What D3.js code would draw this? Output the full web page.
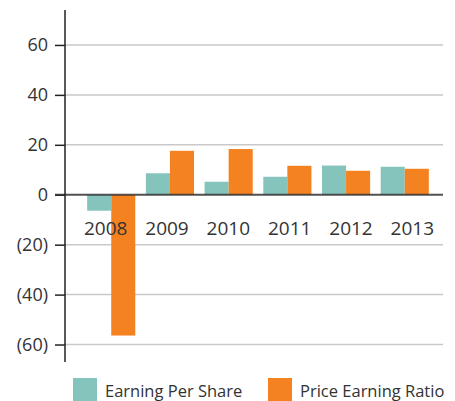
<!DOCTYPE html>
<html>
<head>
<meta charset="utf-8">
<script src="https://cdn.jsdelivr.net/npm/d3@7"></script>
<style>
  body { margin: 0; background: #fff; }
  svg { display: block; font-family: "Open Sans", sans-serif; }
</style>
</head>
<body>
<svg id="chart" width="455" height="401"></svg>
<script>
const years = ["2008", "2009", "2010", "2011", "2012", "2013"];
const earningPerShare = [-6.4, 8.6, 5.2, 7.2, 11.7, 11.2];
const priceEarningRatio = [-56.4, 17.6, 18.3, 11.6, 9.6, 10.4];
const yTicks = [60, 40, 20, 0, -20, -40, -60];
const seriesNames = ["Earning Per Share", "Price Earning Ratio"];

const color = d3.scaleOrdinal().domain(seriesNames).range(["#85c4bc", "#f58220"]);

const svg = d3.select("#chart");
const left = 65, right = 443;

const y = d3.scaleLinear().domain([74, -67]).range([10, 362]);

const xGroup = d3.scaleBand().domain(years).range([76, 440])
  .paddingInner(0.18).paddingOuter(0.19);
const xSeries = d3.scaleBand().domain(seriesNames).range([0, xGroup.bandwidth()]);
const xLabel = d3.scaleBand().domain(years).range([75, 443]);

const fmt = d => d < 0 ? `(${-d})` : `${d}`;

// gridlines
svg.append("g")
  .selectAll("line")
  .data(yTicks.filter(d => d !== 0))
  .join("line")
  .attr("x1", left).attr("x2", right)
  .attr("y1", d => y(d)).attr("y2", d => y(d))
  .attr("stroke", "#c9c9c9")
  .attr("stroke-width", 1.5);

// y axis
const yAxis = svg.append("g")
  .attr("transform", `translate(${left},0)`)
  .call(d3.axisLeft(y).tickValues(yTicks).tickFormat(fmt).tickSize(10).tickPadding(7));
yAxis.select(".domain").remove();
yAxis.selectAll(".tick line").attr("stroke", "#222").attr("stroke-width", 1.5);
yAxis.selectAll(".tick text")
  .attr("fill", "#333")
  .style("font-size", "18px")
  .style("font-family", "Open Sans, sans-serif");

// bars
const rows = years.map((yr, i) => ({
  year: yr,
  values: [
    { key: seriesNames[0], value: earningPerShare[i] },
    { key: seriesNames[1], value: priceEarningRatio[i] }
  ]
}));

svg.append("g")
  .selectAll("g")
  .data(rows)
  .join("g")
  .attr("transform", d => `translate(${xGroup(d.year)},0)`)
  .selectAll("rect")
  .data(d => d.values)
  .join("rect")
  .attr("x", d => xSeries(d.key))
  .attr("width", xSeries.bandwidth())
  .attr("y", d => y(Math.max(0, d.value)))
  .attr("height", d => Math.abs(y(d.value) - y(0)))
  .attr("fill", d => color(d.key));

// zero line
svg.append("line")
  .attr("x1", left - 10).attr("x2", right)
  .attr("y1", y(0)).attr("y2", y(0))
  .attr("stroke", "#333")
  .attr("stroke-opacity", 0.85)
  .attr("stroke-width", 2);

// axis line
svg.append("line")
  .attr("x1", left).attr("x2", left)
  .attr("y1", 10).attr("y2", 362)
  .attr("stroke", "#222")
  .attr("stroke-width", 1.5);

// year labels
svg.append("g")
  .selectAll("text")
  .data(years)
  .join("text")
  .attr("x", d => xLabel(d) + xLabel.bandwidth() / 2)
  .attr("y", 235)
  .attr("text-anchor", "middle")
  .attr("fill", "#333")
  .style("font-size", "19px")
  .text(d => d);

// legend
const legendX = [73, 268];
const legend = svg.append("g")
  .selectAll("g")
  .data(seriesNames)
  .join("g")
  .attr("transform", (d, i) => `translate(${legendX[i]},378)`);

legend.append("rect")
  .attr("width", 24)
  .attr("height", 23)
  .attr("fill", d => color(d));

legend.append("text")
  .attr("x", 32)
  .attr("y", 18.5)
  .attr("fill", "#333")
  .style("font-size", "16.5px")
  .text(d => d);
</script>
</body>
</html>
